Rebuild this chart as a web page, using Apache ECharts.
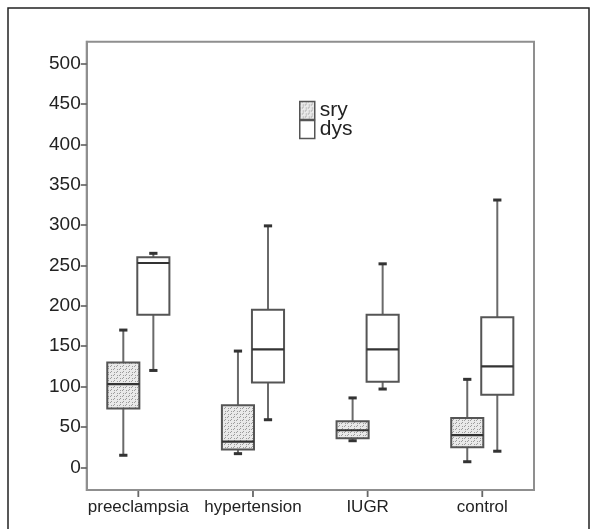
<!DOCTYPE html>
<html>
<head>
<meta charset="utf-8">
<script src="https://cdn.jsdelivr.net/npm/echarts@6/dist/echarts.min.js"></script>
<style>
  html, body { margin: 0; padding: 0; background: #fff; }
  #chart { width: 597px; height: 529px; }
</style>
</head>
<body>
<div id="chart"></div>
<script>
const categories = ['preeclampsia', 'hypertension', 'IUGR', 'control'];
const seriesNames = ['sry', 'dys'];
// sry
const sryLow = [15, 17, 33, 7];
const sryQ1 = [73, 22, 36, 25];
const sryMedian = [103, 32, 46, 40];
const sryQ3 = [130, 77, 57, 61];
const sryHigh = [170, 144, 86, 109];
// dys
const dysLow = [120, 59, 97, 20];
const dysQ1 = [189, 105, 106, 90];
const dysMedian = [253, 146, 146, 125];
const dysQ3 = [260, 195, 189, 186];
const dysHigh = [265, 299, 252, 331];
const yTicks = [0, 50, 100, 150, 200, 250, 300, 350, 400, 450, 500];
const yMin = -28;
const yMax = 527;

const FONT = "'Liberation Sans', Arial, Helvetica, sans-serif";

function makePattern() {
  const c = document.createElement('canvas');
  c.width = 6; c.height = 6;
  const ctx = c.getContext('2d');
  ctx.fillStyle = '#e9e9e9';
  ctx.fillRect(0, 0, 6, 6);
  ctx.fillStyle = '#9c9c9c';
  ctx.fillRect(0, 0, 1, 1);
  ctx.fillRect(2, 0, 1, 1);
  ctx.fillRect(0, 2, 1, 1);
  ctx.fillRect(3, 3, 1, 1);
  ctx.fillRect(5, 3, 1, 1);
  ctx.fillRect(3, 5, 1, 1);
  return c;
}
const dotted = { image: makePattern(), repeat: 'repeat' };

function buildData(low, q1, med, q3, high) {
  return categories.map((c, i) => [i, low[i], q1[i], med[i], q3[i], high[i]]);
}

function makeRender(side, fill) {
  return function (params, api) {
    const idx = api.value(0);
    const bw = api.size([1, 0])[0];
    const cx = api.coord([idx, 0])[0] + side * bw * 0.131;
    const half = bw * 0.14;
    const cap = bw * 0.036;
    const y = k => api.coord([idx, api.value(k)])[1];
    const yLow = y(1), yQ1 = y(2), yMed = y(3), yQ3 = y(4), yHigh = y(5);
    const wStyle = { stroke: '#6a6a6a', lineWidth: 2 };
    const cStyle = { stroke: '#333', lineWidth: 3 };
    return {
      type: 'group',
      children: [
        { type: 'line', shape: { x1: cx, y1: yHigh, x2: cx, y2: yQ3 }, style: wStyle },
        { type: 'line', shape: { x1: cx, y1: yQ1, x2: cx, y2: yLow }, style: wStyle },
        { type: 'line', shape: { x1: cx - cap, y1: yHigh, x2: cx + cap, y2: yHigh }, style: cStyle },
        { type: 'line', shape: { x1: cx - cap, y1: yLow, x2: cx + cap, y2: yLow }, style: cStyle },
        { type: 'rect', shape: { x: cx - half, y: yQ3, width: 2 * half, height: yQ1 - yQ3 },
          style: { fill: fill, stroke: '#555', lineWidth: 2 } },
        { type: 'line', shape: { x1: cx - half, y1: yMed, x2: cx + half, y2: yMed },
          style: { stroke: '#333', lineWidth: 2.2 } }
      ]
    };
  };
}

// category tick marks below the plot frame, placed through the category scale
function renderTick(params, api) {
  const idx = api.value(0);
  const p = api.coord([idx, yMin]);
  return {
    type: 'line',
    shape: { x1: p[0], y1: p[1] + 1, x2: p[0], y2: p[1] + 7 },
    style: { stroke: '#666', lineWidth: 1.8 }
  };
}

const chart = echarts.init(document.getElementById('chart'), null, { renderer: 'canvas' });
chart.setOption({
  backgroundColor: '#fff',
  animation: false,
  graphic: [{
    type: 'rect', silent: true, z: -10,
    shape: { x: 8, y: 8, width: 581, height: 560 },
    style: { fill: 'none', stroke: '#222', lineWidth: 1.5 }
  }],
  legend: {
    orient: 'vertical',
    left: 299, top: 100,
    padding: 0,
    itemWidth: 15, itemHeight: 18, itemGap: -2,
    textStyle: { fontFamily: FONT, fontSize: 21, color: '#222', lineHeight: 17 },
    data: [
      { name: 'sry', icon: 'rect', itemStyle: { color: dotted, borderColor: '#555', borderWidth: 1.5 } },
      { name: 'dys', icon: 'rect', itemStyle: { color: '#fff', borderColor: '#555', borderWidth: 1.5 } }
    ]
  },
  grid: [
    { left: 86.7, right: 63, top: 41.7, bottom: 39, show: true, borderColor: '#8f8f8f', borderWidth: 2, backgroundColor: 'transparent' },
    { left: 81, right: 57.4, top: 41.7, bottom: 39 }
  ],
  xAxis: [
    { gridIndex: 0, type: 'category', data: categories, show: false },
    { gridIndex: 1, type: 'category', data: categories,
      axisLine: { show: false, onZero: false },
      axisTick: { show: false },
      axisLabel: { interval: 0, fontFamily: FONT, fontSize: 17, color: '#222', margin: 9 },
      splitLine: { show: false } }
  ],
  yAxis: [
    { gridIndex: 0, type: 'value', min: yMin, max: yMax,
      axisLine: { show: true, lineStyle: { color: '#8f8f8f', width: 2 } },
      axisTick: { show: true, length: 6, customValues: yTicks, lineStyle: { color: '#555', width: 1.5 } },
      axisLabel: { fontFamily: FONT, fontSize: 19, color: '#222', margin: 6, customValues: yTicks },
      splitLine: { show: false } },
    { gridIndex: 1, type: 'value', min: yMin, max: yMax, show: false, splitLine: { show: false } }
  ],
  series: [
    { name: 'sry', type: 'custom', xAxisIndex: 1, yAxisIndex: 1,
      itemStyle: { color: dotted },
      encode: { x: 0, y: [1, 2, 3, 4, 5] },
      renderItem: makeRender(-1, dotted),
      data: buildData(sryLow, sryQ1, sryMedian, sryQ3, sryHigh) },
    { name: 'dys', type: 'custom', xAxisIndex: 1, yAxisIndex: 1,
      itemStyle: { color: '#fff' },
      encode: { x: 0, y: [1, 2, 3, 4, 5] },
      renderItem: makeRender(1, '#fff'),
      data: buildData(dysLow, dysQ1, dysMedian, dysQ3, dysHigh) },
    { name: 'xTicks', type: 'custom', xAxisIndex: 1, yAxisIndex: 1,
      silent: true, clip: false, z: 5,
      encode: { x: 0 },
      renderItem: renderTick,
      data: categories.map((c, i) => [i]) }
  ]
});
</script>
</body>
</html>
